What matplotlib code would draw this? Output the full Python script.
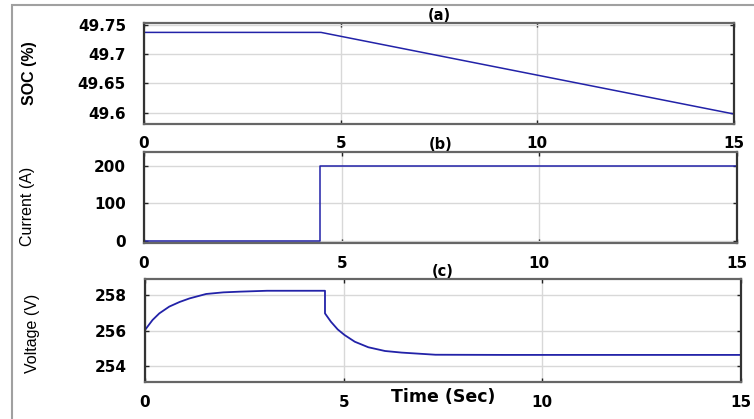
import matplotlib
matplotlib.use("Agg")
import matplotlib.pyplot as plt
from matplotlib.patches import Rectangle

# (a) state of charge
soc_t = [0, 4.5, 15]
soc_v = [49.737, 49.737, 49.598]

# (b) current step
cur_t = [0, 4.46, 15]
cur_v = [0, 200, 200]

# (c) terminal voltage
volt_t = [0, 0.19, 0.36, 0.61, 0.87, 1.12, 1.54, 1.97, 2.39, 3.07, 4.53,
          4.53, 4.68, 4.85, 5.02, 5.28, 5.62, 6.04, 6.46, 7.31, 9.0, 15]
volt_v = [256.04, 256.6, 256.97, 257.35, 257.61, 257.81, 258.06, 258.15, 258.19, 258.24, 258.24,
          256.97, 256.5, 256.07, 255.76, 255.38, 255.07, 254.86, 254.77, 254.65, 254.64, 254.64]

xticks = [0, 5, 10, 15]

W, H = 754, 419
fig = plt.figure(figsize=(W / 100, H / 100), dpi=100)

# outer frame
fig.patches.append(Rectangle((12 / W, -0.1), 1.2, 1 - 5 / H + 0.1, transform=fig.transFigure,
                             fill=False, edgecolor="#a0a0a0", lw=1.5, clip_on=False))


def make_ax(left, top, right, bottom):
    return fig.add_axes([left / W, 1 - bottom / H, (right - left) / W, (bottom - top) / H])


ax1 = make_ax(144, 23, 734, 124)
ax2 = make_ax(144, 152, 737, 243)
ax3 = make_ax(145, 279, 741, 382)

line_c = "#2222a8"
ax1.plot(soc_t, soc_v, color=line_c, lw=1.1)
ax2.plot(cur_t, cur_v, color=line_c, lw=1.1, drawstyle="steps-post")
ax3.plot(volt_t, volt_v, color=line_c, lw=1.3)

ax1.set_ylim(49.581, 49.753)
ax1.set_yticks([49.6, 49.65, 49.7, 49.75])
ax1.set_yticklabels(["49.6", "49.65", "49.7", "49.75"])
ax2.set_ylim(-5, 236)
ax2.set_yticks([0, 100, 200])
ax3.set_ylim(253.12, 258.9)
ax3.set_yticks([254, 256, 258])

titles = ["(a)", "(b)", "(c)"]
ylabels = ["SOC (%)", "Current (A)", "Voltage (V)"]
ylab_x = [-0.182, -0.183, -0.176]
ylab_y = [0.5, 0.4, 0.47]

for i, ax in enumerate([ax1, ax2, ax3]):
    ax.set_xlim(0, 15)
    ax.set_xticks(xticks)
    ax.grid(True, color="#d8d8d8", lw=1)
    ax.tick_params(direction="in", top=True, right=True, length=3, width=1,
                   color="#222222", labelsize=11, pad=9)
    ax.tick_params(axis="y", pad=13)
    for lab in ax.get_xticklabels() + ax.get_yticklabels():
        lab.set_fontweight("bold")
    for side, sp in ax.spines.items():
        sp.set_color("#333333" if side in ("left", "right") else "#666666")
        sp.set_linewidth(1.6)
    ax.set_title(titles[i], fontsize=10.5, fontweight="bold", pad=2)
    ax.set_ylabel(ylabels[i], fontsize=11.5, family="Liberation Sans",
                  fontweight="bold" if i == 0 else "normal")
    ax.yaxis.set_label_coords(ylab_x[i], ylab_y[i])

ax3.set_xlabel("Time (Sec)", fontsize=12.5, fontweight="bold")
ax3.xaxis.set_label_coords(0.5, -0.146)
ax3.xaxis.label.set_va("center")

fig.savefig("out.png", dpi=100)
